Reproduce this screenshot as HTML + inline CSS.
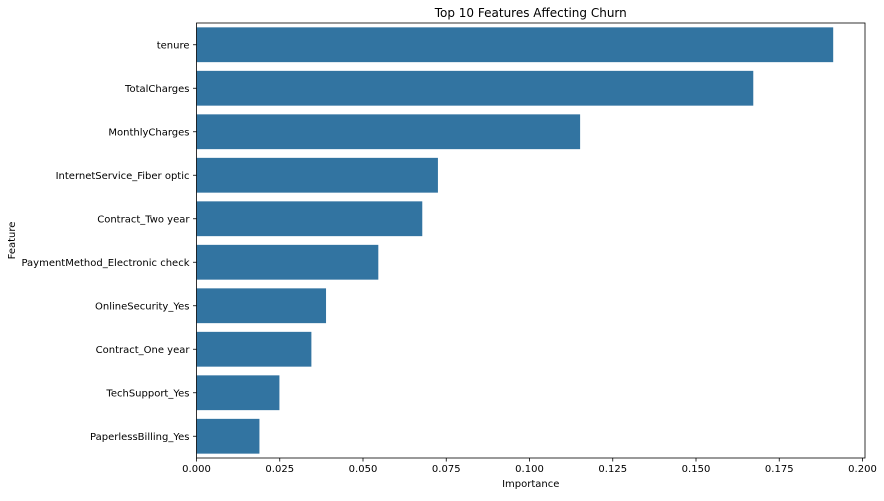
<!DOCTYPE html>
<html><head><meta charset="utf-8"><style>
body{margin:0;background:#fff;font-family:"Liberation Sans","DejaVu Sans",sans-serif;}
svg text{font-family:"DejaVu Sans","Liberation Sans",sans-serif;fill:#000;}
</style></head><body>
<svg id="chart" width="884" height="496" xmlns="http://www.w3.org/2000/svg"></svg>
<script>
const categories = ["tenure","TotalCharges","MonthlyCharges","InternetService_Fiber optic","Contract_Two year","PaymentMethod_Electronic check","OnlineSecurity_Yes","Contract_One year","TechSupport_Yes","PaperlessBilling_Yes"];
const importances = [0.1912,0.1672,0.1152,0.0725,0.0678,0.0546,0.0389,0.0345,0.0249,0.0189];
const xTicks = [0,0.025,0.05,0.075,0.1,0.125,0.15,0.175,0.2];
const xTickLabels = ["0.000","0.025","0.050","0.075","0.100","0.125","0.150","0.175","0.200"];

const svg = document.getElementById('chart');
const NS = "http://www.w3.org/2000/svg";
const L = 196.5, R = 865, T = 23, B = 458;
const xScale = v => L + v * 3330;
const band = (B - T) / categories.length;
const yCenter = i => T + band * (i + 0.5);
function mk(tag, attrs, text){
  const e = document.createElementNS(NS, tag);
  for (const k in attrs) e.setAttribute(k, attrs[k]);
  if (text !== undefined) e.textContent = text;
  svg.appendChild(e);
  return e;
}
categories.forEach((c, i) => {
  const r = mk('rect', {x: xScale(0), y: yCenter(i) - band*0.4, width: xScale(importances[i]) - xScale(0), height: band*0.8, fill: '#3274a1'});
  
  
  const t = mk('line', {x1: L - 3.5, x2: L, y1: yCenter(i), y2: yCenter(i), stroke: '#000', 'stroke-width': 0.8});
  
  
  const lb = mk('text', {x: L - 7, y: yCenter(i) + 3.5, 'text-anchor': 'end', 'font-size': 10}, c);
  
  
});
xTicks.forEach((v, i) => {
  const t = mk('line', {x1: xScale(v), x2: xScale(v), y1: B, y2: B + 3.5, stroke: '#000', 'stroke-width': 0.8});
  
  
  const lb = mk('text', {x: xScale(v), y: B + 14, 'text-anchor': 'middle', 'font-size': 10}, xTickLabels[i]);
  
  
});
const frame = mk('rect', {x: L, y: T, width: R - L, height: B - T, fill: 'none', stroke: '#000', 'stroke-width': 0.8});


const title = mk('text', {x: (L + R) / 2, y: 17, 'text-anchor': 'middle', 'font-size': 12}, 'Top 10 Features Affecting Churn');


const xt = mk('text', {x: (L + R) / 2, y: 487, 'text-anchor': 'middle', 'font-size': 10}, 'Importance');


const yt = mk('text', {x: 0, y: 0, 'text-anchor': 'middle', 'font-size': 10, transform: 'translate(15,' + ((T + B) / 2) + ') rotate(-90)'}, 'Feature');


</script>
</body></html>
